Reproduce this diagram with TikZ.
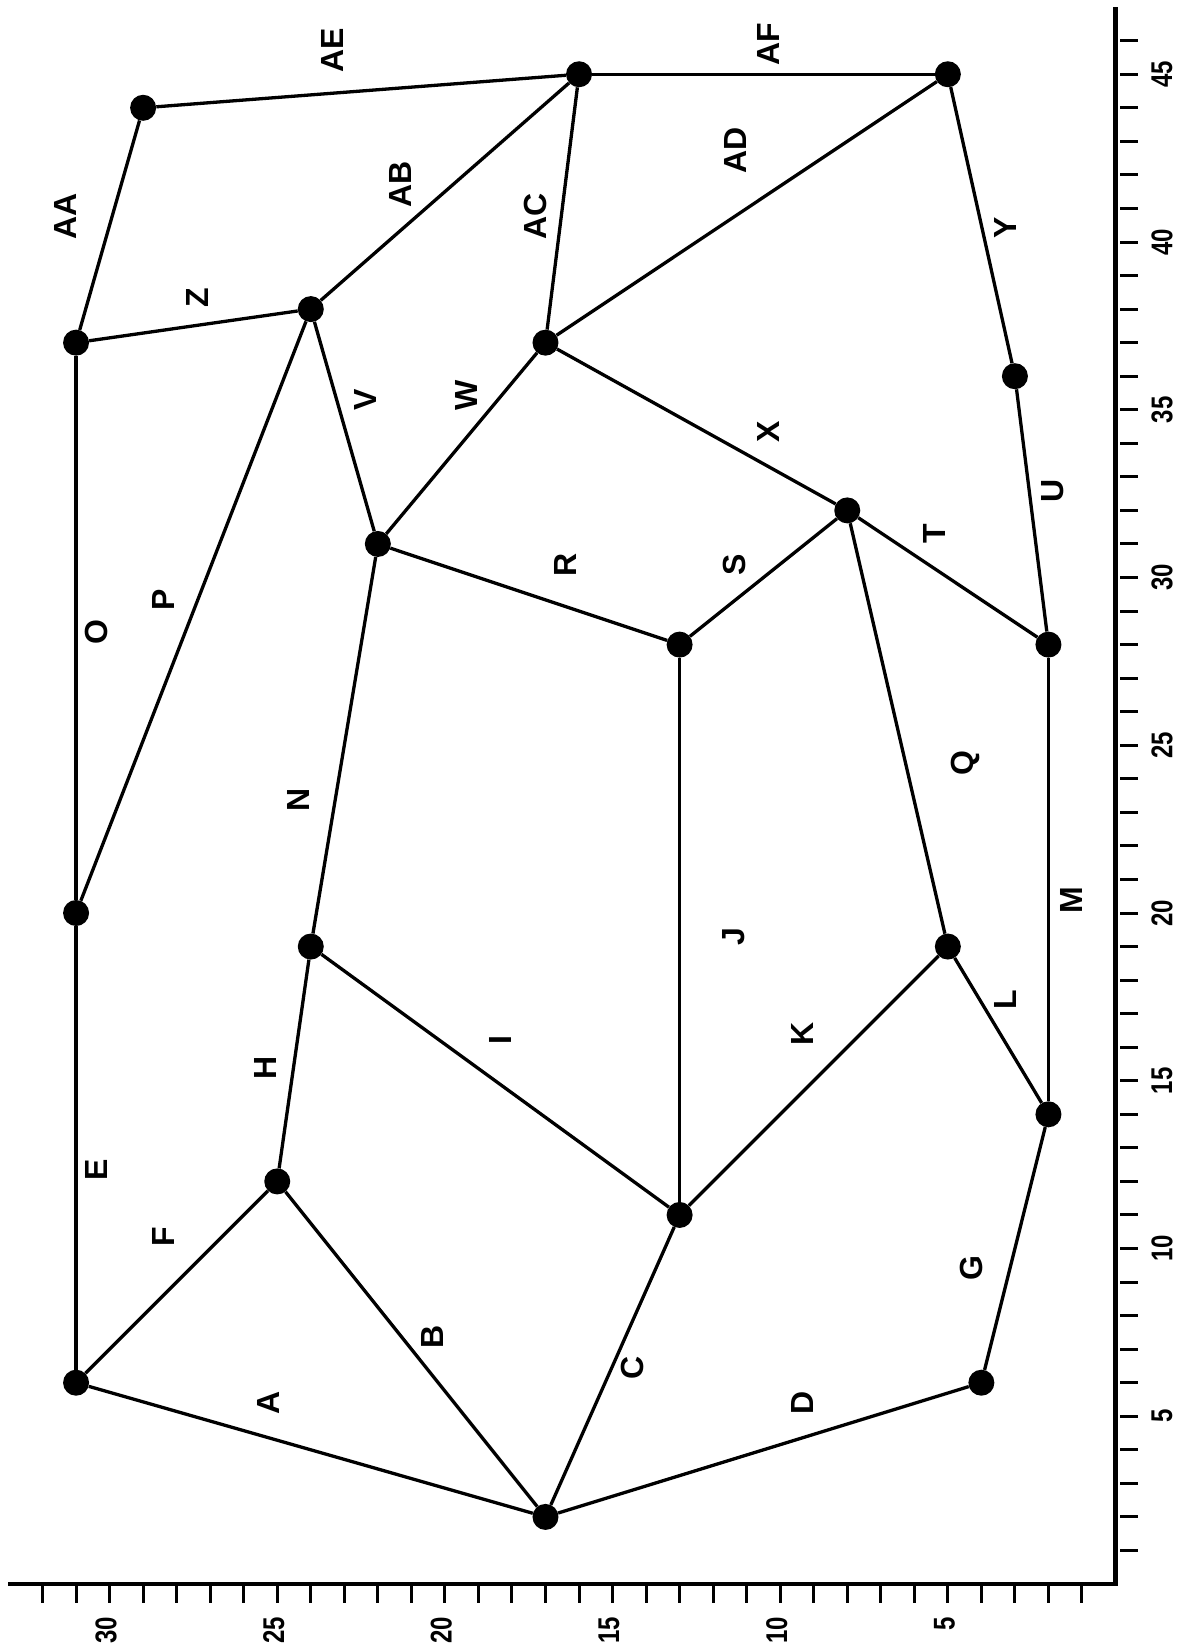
\documentclass[tikz,border=0pt]{standalone}
\usepackage{fontspec}
\setmainfont{Liberation Sans}
\usepackage{graphicx}
\begin{document}
\begin{tikzpicture}[x=1pt,y=-1pt,
  dot/.style={circle,fill=black,inner sep=0pt,minimum size=26pt},
  edge/.style={line width=3.3pt},
  lab/.style={font=\fontsize{32}{36}\selectfont\bfseries,rotate=90,inner sep=0pt},
  axlab/.style={font=\fontsize{30}{36}\selectfont\bfseries,rotate=90,inner sep=0pt},
  axisline/.style={line width=4.8pt,line join=miter},
  tickline/.style={line width=3pt}]
\useasboundingbox (0,0) rectangle (1179,1651);
% data frame
\begin{scope}[shift={(1115.5pt,-1584pt)},x={(-33.53pt,0pt)},y={(0pt,33.55pt)}]
  \coordinate (ax0) at (0,0);
  \coordinate (axT) at (0,47.0);
  \coordinate (axL) at (33.03,0);
  \node[dot] (a) at (31,37) {};
  \node[dot] (b) at (29,44) {};
  \node[dot] (c) at (16,45) {};
  \node[dot] (d) at (5,45) {};
  \node[dot] (e) at (24,38) {};
  \node[dot] (f) at (17,37) {};
  \node[dot] (g) at (22,31) {};
  \node[dot] (h) at (3,36) {};
  \node[dot] (i) at (8,32) {};
  \node[dot] (j) at (13,28) {};
  \node[dot] (k) at (2,28) {};
  \node[dot] (l) at (31,20) {};
  \node[dot] (m) at (24,19) {};
  \node[dot] (n) at (5,19) {};
  \node[dot] (o) at (25,12) {};
  \node[dot] (p) at (13,11) {};
  \node[dot] (q) at (2,14) {};
  \node[dot] (r) at (31,6) {};
  \node[dot] (s) at (4,6) {};
  \node[dot] (t) at (17,2) {};
\end{scope}
\draw[axisline] (axL) -- (ax0) -- (axT);
\foreach \i in {1,...,46}{
  \pgfmathsetmacro\yy{1584-33.55*\i}
  \draw[tickline] (1120,\yy) -- (1138,\yy);
}
\foreach \i in {1,...,32}{
  \pgfmathsetmacro\xx{1115.5-33.53*\i}
  \draw[tickline] (\xx,1586) -- (\xx,1603);
}
\foreach \i in {5,10,...,30}{
  \pgfmathsetmacro\xx{1115.5-33.53*\i-3.5}
  \node[axlab,anchor=east] (bl\i) at (\xx,1617) {\scalebox{0.8}[1]{\i}};
}
\foreach \i in {5,10,...,45}{
  \pgfmathsetmacro\yy{1584-33.55*\i}
  \node[axlab] (rl\i) at (1162,\yy) {\scalebox{0.8}[1]{\i}};
}
% edges
\draw[edge] (r) -- (t);
\draw[edge] (o) -- (t);
\draw[edge] (p) -- (t);
\draw[edge] (s) -- (t);
\draw[edge] (r) -- (l);
\draw[edge] (r) -- (o);
\draw[edge] (s) -- (q);
\draw[edge] (o) -- (m);
\draw[edge] (m) -- (p);
\draw[edge] (p) -- (j);
\draw[edge] (p) -- (n);
\draw[edge] (n) -- (q);
\draw[edge] (q) -- (k);
\draw[edge] (m) -- (g);
\draw[edge] (l) -- (a);
\draw[edge] (l) -- (e);
\draw[edge] (n) -- (i);
\draw[edge] (g) -- (j);
\draw[edge] (j) -- (i);
\draw[edge] (i) -- (k);
\draw[edge] (k) -- (h);
\draw[edge] (g) -- (e);
\draw[edge] (g) -- (f);
\draw[edge] (f) -- (i);
\draw[edge] (h) -- (d);
\draw[edge] (a) -- (e);
\draw[edge] (a) -- (b);
\draw[edge] (e) -- (c);
\draw[edge] (f) -- (c);
\draw[edge] (f) -- (d);
\draw[edge] (b) -- (c);
\draw[edge] (c) -- (d);
% edge labels
\node[lab] (lA) at (268,1403) {A};
\node[lab] (lB) at (432,1337) {B};
\node[lab] (lC) at (632,1368) {C};
\node[lab] (lD) at (802,1403) {D};
\node[lab] (lE) at (96,1170) {E};
\node[lab] (lF) at (163,1237) {F};
\node[lab] (lG) at (971,1268) {G};
\node[lab] (lH) at (265,1068) {H};
\node[lab] (lI) at (500,1040) {I};
\node[lab] (lJ) at (734,937) {J};
\node[lab] (lK) at (802,1034) {K};
\node[lab] (lL) at (1005,1000) {L};
\node[lab] (lM) at (1071,900) {M};
\node[lab] (lN) at (298,800) {N};
\node[lab] (lO) at (96,632) {O};
\node[lab] (lP) at (163,600) {P};
\node[lab] (lQ) at (965,763) {Q};
\node[lab] (lR) at (565,565) {R};
\node[lab] (lS) at (734,565) {S};
\node[lab] (lT) at (934,534) {T};
\node[lab] (lU) at (1053,491) {U};
\node[lab] (lV) at (365,400) {V};
\node[lab] (lW) at (466,395) {W};
\node[lab] (lX) at (768,432) {X};
\node[lab] (lY) at (1005,228) {Y};
\node[lab] (lZ) at (197,298) {Z};
\node[lab] (lAA) at (65,216) {AA};
\node[lab] (lAB) at (400,184) {AB};
\node[lab] (lAC) at (535,216) {AC};
\node[lab] (lAD) at (735,150) {AD};
\node[lab] (lAE) at (332,50) {AE};
\node[lab] (lAF) at (768,44) {AF};
\end{tikzpicture}
\end{document}
